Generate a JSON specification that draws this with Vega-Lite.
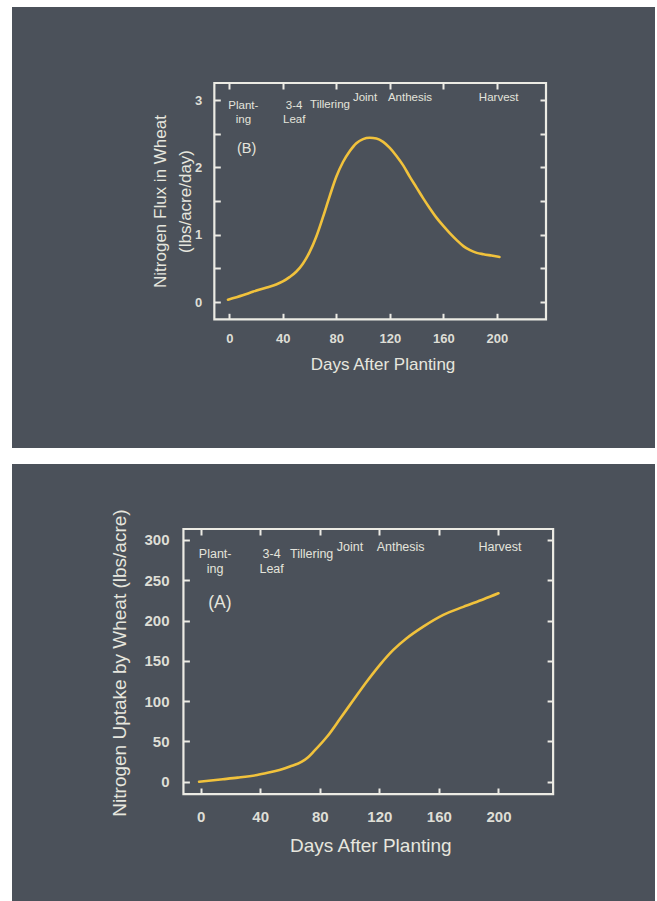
{
  "$schema": "https://vega.github.io/schema/vega-lite/v6.json",
  "background": "white",
  "padding": {"left": 12, "top": 7, "right": 2, "bottom": 0},
  "spacing": 16,
  "config": {
    "font": "Liberation Sans",
    "view": {"fill": "#4b515a", "stroke": null},
    "axis": {
      "domain": false,
      "grid": false,
      "tickColor": "#ecebe4",
      "tickWidth": 2,
      "tickSize": -6,
      "labelColor": "#deded6",
      "labelFontWeight": "bold",
      "titleColor": "#e6e6de",
      "titleFontWeight": "normal",
      "labelFont": "Liberation Sans",
      "titleFont": "Liberation Sans",
      "labelOverlap": false,
      "labelFlush": false
    }
  },
  "datasets": {
    "flux": [
      {"day": -1, "flux": 0.035},
      {"day": 10, "flux": 0.1},
      {"day": 18, "flux": 0.155},
      {"day": 28, "flux": 0.215},
      {"day": 35, "flux": 0.26},
      {"day": 40, "flux": 0.305},
      {"day": 45, "flux": 0.37},
      {"day": 50, "flux": 0.45},
      {"day": 55, "flux": 0.57},
      {"day": 60, "flux": 0.74},
      {"day": 65, "flux": 0.97},
      {"day": 70, "flux": 1.26},
      {"day": 75, "flux": 1.57},
      {"day": 80, "flux": 1.86},
      {"day": 85, "flux": 2.08},
      {"day": 90, "flux": 2.24},
      {"day": 95, "flux": 2.36},
      {"day": 100, "flux": 2.42},
      {"day": 105, "flux": 2.44},
      {"day": 110, "flux": 2.43},
      {"day": 115, "flux": 2.38},
      {"day": 120, "flux": 2.29},
      {"day": 125, "flux": 2.17},
      {"day": 130, "flux": 2.03},
      {"day": 135, "flux": 1.86},
      {"day": 140, "flux": 1.7},
      {"day": 145, "flux": 1.54},
      {"day": 150, "flux": 1.39},
      {"day": 155, "flux": 1.25},
      {"day": 160, "flux": 1.13},
      {"day": 165, "flux": 1.02},
      {"day": 170, "flux": 0.92},
      {"day": 175, "flux": 0.83},
      {"day": 180, "flux": 0.77},
      {"day": 185, "flux": 0.73},
      {"day": 190, "flux": 0.71},
      {"day": 196, "flux": 0.69},
      {"day": 202, "flux": 0.67}
    ],
    "uptake": [
      {"day": -1, "uptake": 0},
      {"day": 15, "uptake": 3},
      {"day": 25, "uptake": 5},
      {"day": 38, "uptake": 8.3},
      {"day": 45, "uptake": 11},
      {"day": 53, "uptake": 14.5},
      {"day": 60, "uptake": 18.8},
      {"day": 68, "uptake": 24.8},
      {"day": 72, "uptake": 30},
      {"day": 76, "uptake": 37.5},
      {"day": 85, "uptake": 56},
      {"day": 94, "uptake": 79},
      {"day": 102.5, "uptake": 101},
      {"day": 111.5, "uptake": 124},
      {"day": 120.4, "uptake": 145},
      {"day": 129.4, "uptake": 163.5},
      {"day": 138.4, "uptake": 178},
      {"day": 149.5, "uptake": 192.4},
      {"day": 163, "uptake": 207},
      {"day": 176.4, "uptake": 217},
      {"day": 190, "uptake": 226.4},
      {"day": 200, "uptake": 233.8}
    ],
    "stagesB": [
      {"stage": "Plant-\ning", "day": 10.5, "y": 2.917},
      {"stage": "3-4\nLeaf", "day": 48.5, "y": 2.917},
      {"stage": "Tillering", "day": 75.3, "y": 2.927},
      {"stage": "Joint", "day": 101.5, "y": 3.027},
      {"stage": "Anthesis", "day": 135.1, "y": 3.027},
      {"stage": "Harvest", "day": 201.4, "y": 3.027}
    ],
    "stagesA": [
      {"stage": "Plant-\ning", "day": 9.8, "y": 282.4},
      {"stage": "3-4\nLeaf", "day": 47.7, "y": 282.4},
      {"stage": "Tillering", "day": 74.6, "y": 282.2},
      {"stage": "Joint", "day": 100.3, "y": 291.7},
      {"stage": "Anthesis", "day": 134.3, "y": 291.7},
      {"stage": "Harvest", "day": 201, "y": 291.7}
    ]
  },
  "vconcat": [
    {
      "width": 643,
      "height": 441,
      "resolve": {"axis": {"x": "independent", "y": "independent"}},
      "layer": [
        {
          "data": {"values": [{}]},
          "mark": {"type": "rect", "fill": null, "stroke": "#ecebe4", "strokeWidth": 2.2},
          "encoding": {
            "x": {
              "datum": -11.2, "type": "quantitative",
              "scale": {"domain": [-162.5, 318.3], "nice": false, "zero": false},
              "axis": {
                "orient": "bottom", "offset": -128.7,
                "values": [0, 40, 80, 120, 160, 200],
                "labelFontSize": 13, "labelPadding": 19,
                "title": "Days After Planting", "titleFontSize": 17,
                "titleX": 370.5, "titleY": 50, "titleBaseline": "alphabetic", "titleAlign": "center"
              }
            },
            "x2": {"datum": 236.8},
            "y": {
              "datum": -0.257, "type": "quantitative",
              "scale": {"domain": [-2.169, 4.383], "nice": false, "zero": false},
              "axis": {
                "orient": "left", "offset": -202.3,
                "values": [0, 0.5, 1, 1.5, 2, 2.5, 3],
                "labelExpr": "datum.value % 1 === 0 ? datum.label : ''",
                "labelFontSize": 13, "labelPadding": 18.6,
                "title": ["Nitrogen Flux in Wheat", "(lbs/acre/day)"], "titleFontSize": 17,
                "titleX": -53.5, "titleY": 194, "titleAngle": -90,
                "titleBaseline": "middle", "titleAlign": "center", "titleLineHeight": 25
              }
            },
            "y2": {"datum": 3.254}
          }
        },
        {
          "data": {"name": "flux"},
          "mark": {"type": "line", "interpolate": "monotone", "color": "#f1c23c", "strokeWidth": 2.6, "strokeCap": "round"},
          "encoding": {
            "x": {
              "field": "day", "type": "quantitative",
              "scale": {"domain": [-162.5, 318.3], "nice": false, "zero": false},
              "axis": {"orient": "top", "offset": -76, "values": [0, 40, 80, 120, 160, 200], "labels": false, "title": null}
            },
            "y": {
              "field": "flux", "type": "quantitative",
              "scale": {"domain": [-2.169, 4.383], "nice": false, "zero": false},
              "axis": {"orient": "right", "offset": -109, "values": [0, 0.5, 1, 1.5, 2, 2.5, 3], "labels": false, "title": null}
            }
          }
        },
        {
          "data": {"name": "stagesB"},
          "mark": {"type": "text", "lineBreak": "\n", "lineHeight": 14.5, "fontSize": 11.5, "fill": "#e4e4dc", "align": "center", "baseline": "middle"},
          "encoding": {
            "x": {"field": "day", "type": "quantitative", "scale": {"domain": [-162.5, 318.3], "nice": false, "zero": false}, "axis": null},
            "y": {"field": "y", "type": "quantitative", "scale": {"domain": [-2.169, 4.383], "nice": false, "zero": false}, "axis": null},
            "text": {"field": "stage"}
          }
        },
        {
          "data": {"values": [{}]},
          "mark": {"type": "text", "text": "(B)", "fontSize": 14.5, "fill": "#e4e4dc", "align": "center", "baseline": "middle"},
          "encoding": {
            "x": {"datum": 13, "type": "quantitative", "scale": {"domain": [-162.5, 318.3], "nice": false, "zero": false}, "axis": null},
            "y": {"datum": 2.27, "type": "quantitative", "scale": {"domain": [-2.169, 4.383], "nice": false, "zero": false}, "axis": null}
          }
        }
      ]
    },
    {
      "width": 643,
      "height": 437,
      "resolve": {"axis": {"x": "independent", "y": "independent"}},
      "layer": [
        {
          "data": {"values": [{}]},
          "mark": {"type": "rect", "fill": null, "stroke": "#ecebe4", "strokeWidth": 2.2},
          "encoding": {
            "x": {
              "datum": -11.5, "type": "quantitative",
              "scale": {"domain": [-126.6, 305.1], "nice": false, "zero": false},
              "axis": {
                "orient": "bottom", "offset": -107,
                "values": [0, 40, 80, 120, 160, 200],
                "labelFontSize": 15, "labelPadding": 21,
                "title": "Days After Planting", "titleFontSize": 19,
                "titleX": 358.3, "titleY": 57, "titleBaseline": "alphabetic", "titleAlign": "center"
              }
            },
            "x2": {"datum": 236.7},
            "y": {
              "datum": -15.5, "type": "quantitative",
              "scale": {"domain": [-148.1, 394.3], "nice": false, "zero": false},
              "axis": {
                "orient": "left", "offset": -171.4,
                "values": [0, 50, 100, 150, 200, 250, 300],
                "labelFontSize": 15, "labelPadding": 20.4,
                "title": "Nitrogen Uptake by Wheat (lbs/acre)", "titleFontSize": 19,
                "titleX": -63.8, "titleY": 198.5, "titleAngle": -90,
                "titleBaseline": "middle", "titleAlign": "center"
              }
            },
            "y2": {"datum": 313.6}
          }
        },
        {
          "data": {"name": "uptake"},
          "mark": {"type": "line", "interpolate": "monotone", "color": "#f1c23c", "strokeWidth": 2.6, "strokeCap": "round"},
          "encoding": {
            "x": {
              "field": "day", "type": "quantitative",
              "scale": {"domain": [-126.6, 305.1], "nice": false, "zero": false},
              "axis": {"orient": "top", "offset": -65, "values": [0, 40, 80, 120, 160, 200], "labels": false, "title": null}
            },
            "y": {
              "field": "uptake", "type": "quantitative",
              "scale": {"domain": [-148.1, 394.3], "nice": false, "zero": false},
              "axis": {"orient": "right", "offset": -101.9, "values": [0, 50, 100, 150, 200, 250, 300], "labels": false, "title": null}
            }
          }
        },
        {
          "data": {"name": "stagesA"},
          "mark": {"type": "text", "lineBreak": "\n", "lineHeight": 15, "fontSize": 12.5, "fill": "#e4e4dc", "align": "center", "baseline": "middle"},
          "encoding": {
            "x": {"field": "day", "type": "quantitative", "scale": {"domain": [-126.6, 305.1], "nice": false, "zero": false}, "axis": null},
            "y": {"field": "y", "type": "quantitative", "scale": {"domain": [-148.1, 394.3], "nice": false, "zero": false}, "axis": null},
            "text": {"field": "stage"}
          }
        },
        {
          "data": {"values": [{}]},
          "mark": {"type": "text", "text": "(A)", "fontSize": 17.5, "fill": "#e4e4dc", "align": "center", "baseline": "middle"},
          "encoding": {
            "x": {"datum": 13, "type": "quantitative", "scale": {"domain": [-126.6, 305.1], "nice": false, "zero": false}, "axis": null},
            "y": {"datum": 221.4, "type": "quantitative", "scale": {"domain": [-148.1, 394.3], "nice": false, "zero": false}, "axis": null}
          }
        }
      ]
    }
  ]
}
